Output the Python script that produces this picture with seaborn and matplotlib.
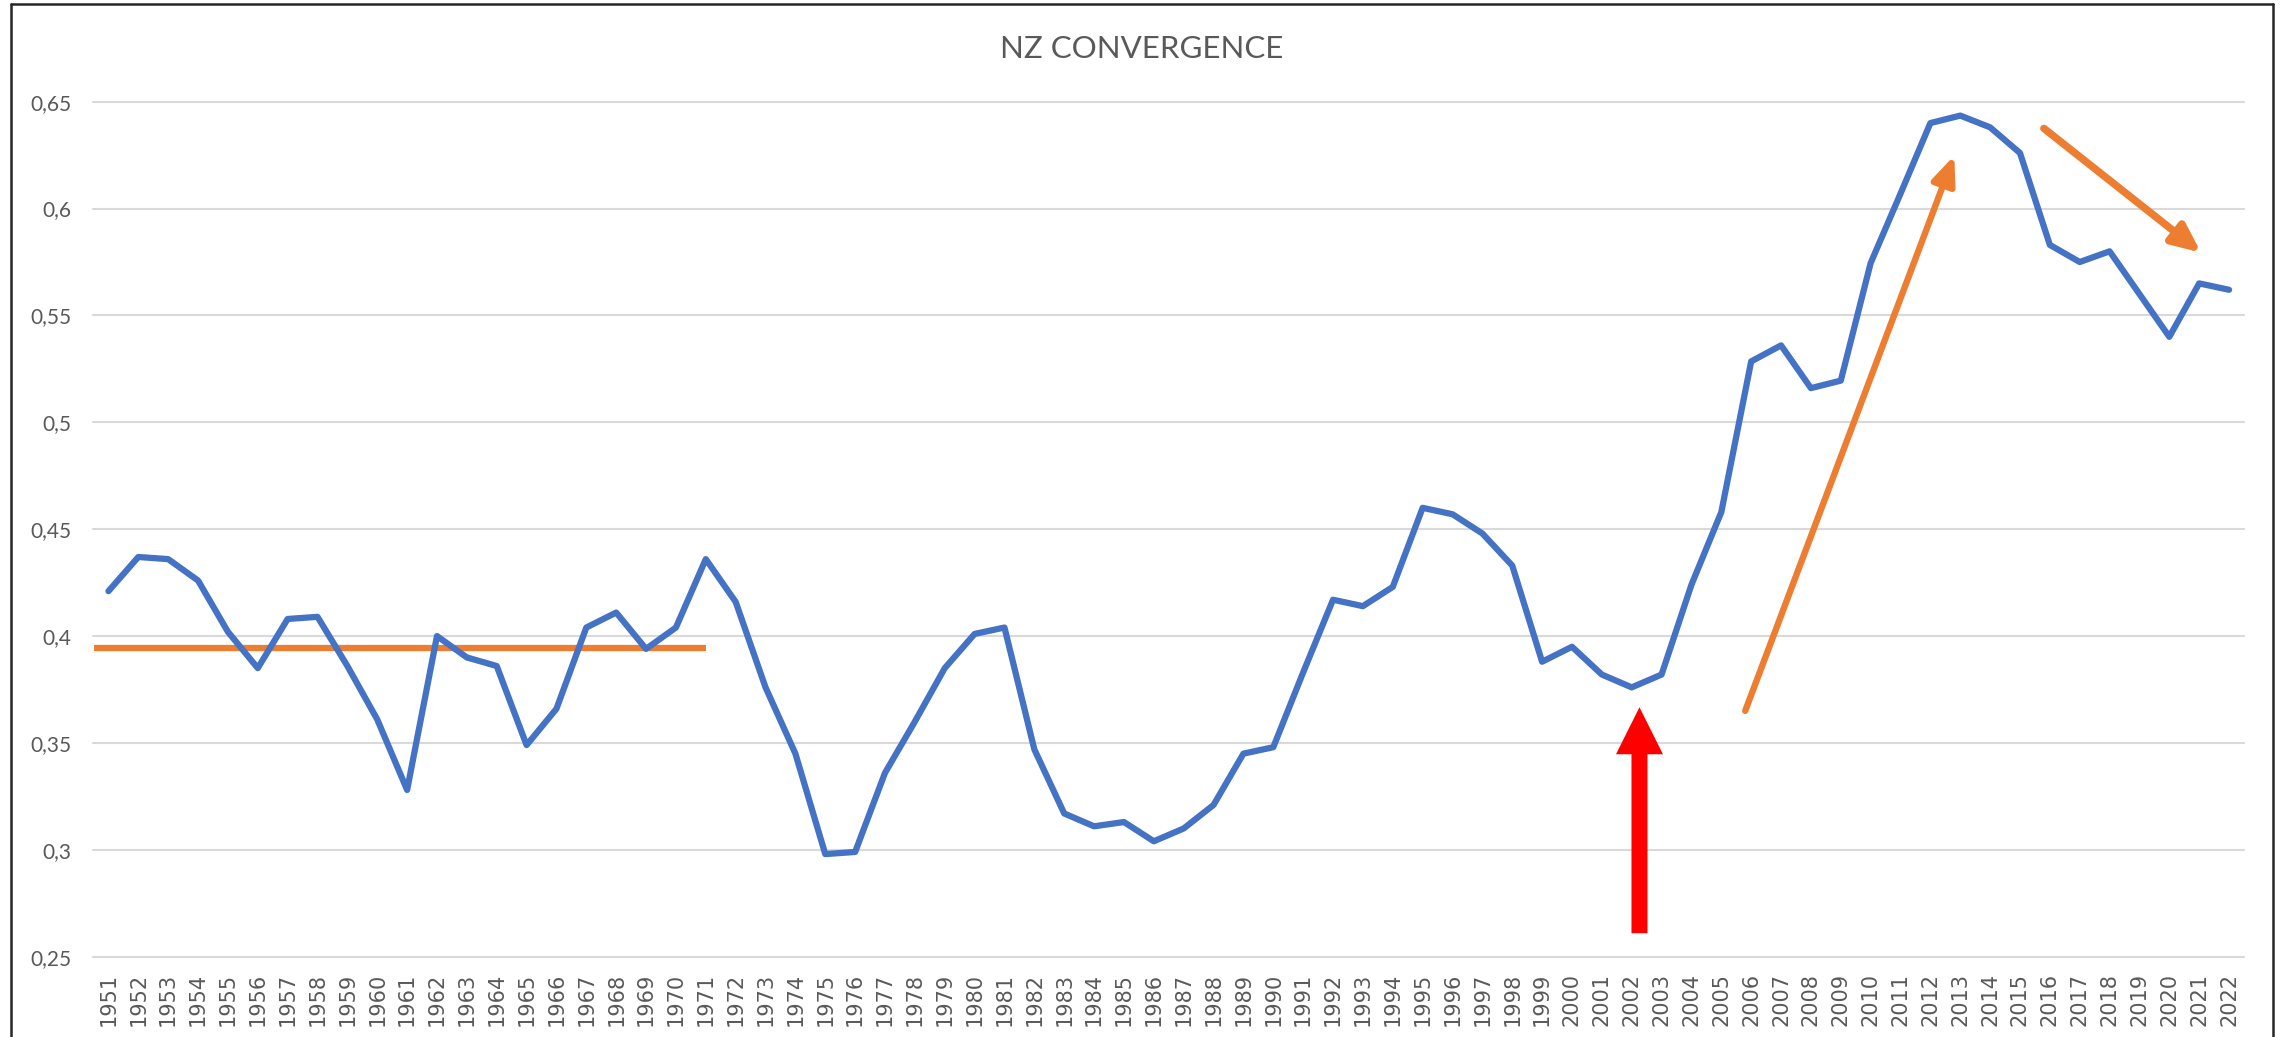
import matplotlib
matplotlib.use("Agg")
import matplotlib.pyplot as plt
from matplotlib.lines import Line2D
from matplotlib.ticker import FuncFormatter, FixedLocator
import seaborn as sns
import pandas as pd

# ---------------- data ----------------
years = list(range(1951, 2023))
values = [
    0.421, 0.437, 0.436, 0.426, 0.402, 0.385, 0.408, 0.409, 0.386, 0.361,
    0.328, 0.400, 0.390, 0.386, 0.349, 0.366, 0.404, 0.411, 0.394, 0.404,
    0.436, 0.416, 0.376, 0.345, 0.298, 0.299, 0.336, 0.360, 0.385, 0.401,
    0.404, 0.347, 0.317, 0.311, 0.313, 0.304, 0.310, 0.321, 0.345, 0.348,
    0.383, 0.417, 0.414, 0.423, 0.460, 0.457, 0.448, 0.433, 0.388, 0.395,
    0.382, 0.376, 0.382, 0.424, 0.458, 0.5285, 0.536, 0.516, 0.5195, 0.5745,
    0.607, 0.640, 0.6435, 0.638, 0.626, 0.583, 0.575, 0.580, 0.560, 0.540,
    0.565, 0.562,
]
y_ticks = [0.25, 0.30, 0.35, 0.40, 0.45, 0.50, 0.55, 0.60, 0.65]
title = "NZ CONVERGENCE"

# annotation geometry (data units)
avg_level = 0.3945
avg_span = [1950.5, 1971]
up_arrow = [(2005.8, 0.365), (2012.8, 0.6248)]
down_arrow = [(2015.8, 0.6375), (2021.06, 0.5794)]
red_arrow = [(2002.26, 0.261), (2002.26, 0.3667)]

df = pd.DataFrame({"year": years, "value": values})

# ---------------- figure ----------------
W, H = 2290, 1037
sns.set_style("white")
plt.rcParams["font.family"] = ["DejaVu Sans"]
fig = plt.figure(figsize=(W / 100, H / 100), dpi=100)
fig.patch.set_facecolor("white")

left_px, right_px, top_px, bot_px = 93.5, 2244, 101.7, 956.7
ax = fig.add_axes([left_px / W, 1 - bot_px / H, (right_px - left_px) / W, (bot_px - top_px) / H])
ax.set_facecolor("white")

sns.lineplot(data=df, x="year", y="value", ax=ax, color="#4472C4", linewidth=4.5,
             solid_joinstyle="round", solid_capstyle="round", zorder=3)

ax.set_xlim(1950.5, 2022.5)
ax.set_ylim(0.25, 0.65)
ax.set_xlabel("")
ax.set_ylabel("")

for s in ax.spines.values():
    s.set_visible(False)

ax.yaxis.set_major_locator(FixedLocator(y_ticks))
def fmt(v, pos):
    s = f"{v:.2f}".rstrip("0").rstrip(".")
    return s.replace(".", ",")
ax.yaxis.set_major_formatter(FuncFormatter(fmt))
ax.set_xticks(years)
ax.set_xticklabels([str(y) for y in years], rotation=90)

ax.tick_params(axis="y", length=0, pad=16, labelsize=15, labelcolor="#595959")
ax.tick_params(axis="x", length=0, pad=11.5, labelsize=15, labelcolor="#595959")
for lab in ax.get_yticklabels():
    lab.set_fontfamily(["Lato", "DejaVu Sans"])
for lab in ax.get_xticklabels():
    lab.set_va("top")

ax.grid(axis="y", color="#D9D9D9", linewidth=1.5)
ax.grid(axis="x", visible=False)
ax.set_axisbelow(True)
for gl in ax.get_ygridlines():
    gl.set_clip_on(False)

# orange average line
ax.plot(avg_span, [avg_level, avg_level], color="#ED7D31", linewidth=4.5,
        solid_capstyle="butt", zorder=2)

# orange arrows
ax.annotate("", xy=up_arrow[1], xytext=up_arrow[0],
            arrowprops=dict(arrowstyle="-|>,head_length=1.0,head_width=0.42",
                            mutation_scale=17, color="#ED7D31", lw=4.6,
                            shrinkA=0, shrinkB=0), zorder=4)
ax.annotate("", xy=down_arrow[1], xytext=down_arrow[0],
            arrowprops=dict(arrowstyle="-|>,head_length=1.0,head_width=0.45",
                            mutation_scale=17, color="#ED7D31", lw=5.4,
                            shrinkA=0, shrinkB=0), zorder=4)

# red arrow
ax.arrow(red_arrow[0][0], red_arrow[0][1], 0, red_arrow[1][1] - red_arrow[0][1],
         width=16 / 29.87, head_width=47 / 29.87, head_length=47 / 2137.5,
         length_includes_head=True, color="#FF0000", linewidth=0, zorder=5)

# title
fig.text(1142 / W, 1 - 57.7 / H, title, ha="center", va="baseline",
         fontsize=22.5, color="#595959", family=["Lato", "DejaVu Sans"])

# outer frame (left, top, right)
fx0, fx1, fy0 = 10.7 / W, 2273 / W, 1 - 3.5 / H
frame_kw = dict(color="#262626", linewidth=1.8, transform=fig.transFigure)
fig.add_artist(Line2D([fx0, fx0], [0, fy0], **frame_kw))
fig.add_artist(Line2D([fx0, fx1], [fy0, fy0], **frame_kw))
fig.add_artist(Line2D([fx1, fx1], [0, fy0], **frame_kw))

fig.savefig("out.png", dpi=100, facecolor="white")
